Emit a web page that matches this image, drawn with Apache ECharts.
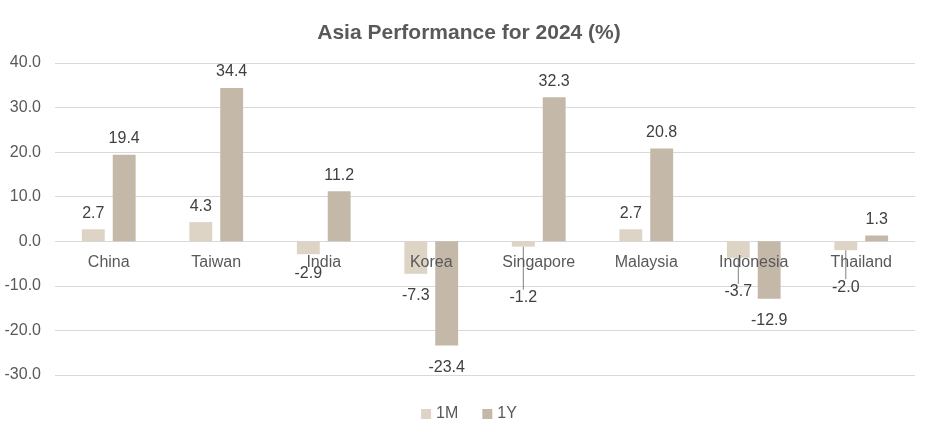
<!DOCTYPE html>
<html><head><meta charset="utf-8">
<script src="https://cdn.jsdelivr.net/npm/echarts@6/dist/echarts.min.js"></script>
<style>html,body{margin:0;padding:0;background:#fff}#c{width:938px;height:447px}</style>
</head><body><div id="c"></div>
<script>
const categories = ['China','Taiwan','India','Korea','Singapore','Malaysia','Indonesia','Thailand'];
const oneMonth = [2.7, 4.3, -2.9, -7.3, -1.2, 2.7, -3.7, -2.0];
const oneYear = [19.4, 34.4, 11.2, -23.4, 32.3, 20.8, -12.9, 1.3];
const yTicks = {min: -30, max: 40, interval: 10};

// label nudges (style only): [seriesIndex][dataIndex] -> dy in px; leader line shown for moved-down labels
const labelNudge = {0: {2: -3, 4: 29, 6: 12, 7: 15}, 1: {}};

const FONT = 'Arial, "Liberation Sans", sans-serif';
const chart = echarts.init(document.getElementById('c'));
const gridTop = 63, gridBottom = 72, H = 447;
const plotH = H - gridTop - gridBottom;
const zeroFromBottom = plotH * (0 - yTicks.min) / (yTicks.max - yTicks.min);

const labelStyle = {show: true, color: '#404040', fontSize: 16, fontFamily: FONT,
  formatter: p => p.value.toFixed(1), distance: 8};
function mk(vals, si){
  const n = labelNudge[si] || {};
  return vals.map((v, i) => ({value: v,
    label: {position: v < 0 ? 'bottom' : 'top', distance: v < 0 ? 14 : 8},
    labelLine: {show: (n[i] || 0) > 0}}));
}
function layoutFn(params){
  const n = labelNudge[params.seriesIndex] || {};
  const dy = n[params.dataIndex];
  return dy ? {dy: dy} : {};
}
chart.setOption({
  animation: false,
  title: {text: 'Asia Performance for 2024 (%)', left: 'center', top: 18,
    textStyle: {color: '#595959', fontSize: 21, fontWeight: 'bold', fontFamily: FONT}},
  grid: {left: 55, right: 23, top: gridTop, bottom: gridBottom},
  legend: {bottom: 20, left: 'center', itemWidth: 10, itemHeight: 10, itemGap: 24,
    icon: 'rect', textStyle: {color: '#595959', fontSize: 16, fontFamily: FONT},
    data: ['1M','1Y']},
  xAxis: {type: 'category', data: categories, offset: -zeroFromBottom,
    axisLine: {show: false}, axisTick: {show: false},
    axisLabel: {color: '#595959', fontSize: 16, margin: 13, fontFamily: FONT}, z: 5},
  yAxis: {type: 'value', min: yTicks.min, max: yTicks.max, interval: yTicks.interval,
    axisLabel: {color: '#595959', fontSize: 16, formatter: v => v.toFixed(1), margin: 14, fontFamily: FONT},
    splitLine: {lineStyle: {color: '#d9d9d9'}}, axisLine: {show: false}},
  series: [
    {name: '1M', type: 'bar', data: mk(oneMonth, 0), itemStyle: {color: '#ddd4c6'},
      barGap: '35%', barCategoryGap: '50%', label: labelStyle,
      labelLayout: layoutFn, labelLine: {lineStyle: {color: '#7f7f7f', width: 1}}},
    {name: '1Y', type: 'bar', data: mk(oneYear, 1), itemStyle: {color: '#c4b8a9'},
      barGap: '35%', barCategoryGap: '50%', label: labelStyle, labelLayout: layoutFn,
      labelLine: {lineStyle: {color: '#7f7f7f', width: 1}}}
  ]
});
</script></body></html>
